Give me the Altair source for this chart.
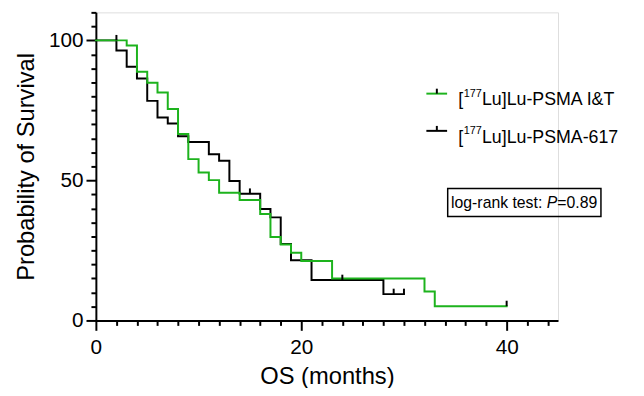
import altair as alt
import pandas as pd

# ---- data ----
iat_time = [0, 3, 4, 5, 6, 7, 8, 9, 10, 11, 12, 14, 16, 17, 18, 19, 20, 23, 32, 33, 40]
iat_surv = [100, 98.2, 88.8, 84.9, 81.4, 75.5, 66.6, 57.6, 52.8, 50.1, 45.6, 43.0, 38.0,
            29.8, 27.1, 24.2, 21.2, 15.0, 10.3, 5.1, 5.1]
p617_time = [0, 2, 3, 4, 5, 6, 7, 8, 9, 11, 12, 13, 14, 16, 17, 18, 19, 21, 28, 30]
p617_surv = [100, 96.4, 90.6, 86.4, 78.4, 72.5, 70.3, 65.8, 63.7, 59.3, 57.0, 49.8, 45.2,
             39.8, 36.8, 27.3, 21.5, 14.4, 9.4, 9.4]
iat_cens_time = [40]
iat_cens_surv = [5.1]
p617_cens_time = [2, 15, 24, 29, 30]
p617_cens_surv = [100, 45.2, 14.4, 9.4, 9.4]

x_ticks = list(range(0, 46, 2))
y_ticks = list(range(0, 111, 5))

GREEN = "#1db31d"
BLACK = "#000000"
FONT = "Liberation Sans, Arial, Helvetica, sans-serif"

x_axis = alt.Axis(
    values=x_ticks, title="OS (months)",
    tickSize={"condition": {"test": "datum.value % 20 === 0", "value": 10}, "value": 5},
    labelExpr="datum.value % 20 === 0 ? datum.label : ''",
    labelFontSize=21, titleFontSize=24, titleFontWeight="normal",
    labelPadding=6, titlePadding=8, domainWidth=2, tickWidth=2,
    domainColor=BLACK, tickColor=BLACK, labelColor=BLACK, titleColor=BLACK,
    grid=False, labelFont=FONT, titleFont=FONT, labelFlush=False, labelOverlap=False,
)
y_axis = alt.Axis(
    values=y_ticks, title="Probability of Survival",
    tickSize={"condition": {"test": "datum.value % 50 === 0", "value": 10}, "value": 5},
    labelExpr="datum.value % 50 === 0 ? datum.label : ''",
    labelFontSize=21, titleFontSize=24, titleFontWeight="normal",
    labelPadding=3, titlePadding=10, domainWidth=2, tickWidth=2,
    domainColor=BLACK, tickColor=BLACK, labelColor=BLACK, titleColor=BLACK,
    grid=False, labelFont=FONT, titleFont=FONT, labelFlush=False, labelOverlap=False,
)
xs = alt.Scale(domain=[0, 45], nice=False, zero=False)
ys = alt.Scale(domain=[0, 110], nice=False, zero=False)


def enc_xy():
    return dict(
        x=alt.X("time:Q", scale=xs, axis=x_axis),
        y=alt.Y("surv:Q", scale=ys, axis=y_axis),
    )


def curve(t, s, color):
    df = pd.DataFrame({"time": t, "surv": s})
    return alt.Chart(df).mark_line(interpolate="step-after", strokeWidth=2,
                                   color=color, strokeCap="square").encode(**enc_xy())


def censor(t, s, color):
    df = pd.DataFrame({"time": t, "surv": s})
    return alt.Chart(df).mark_point(shape="M0,0L0,-1", size=121, filled=False,
                                    strokeWidth=2, color=color, opacity=1).encode(**enc_xy())


def txt(s, px, py, size, color=BLACK, style="normal"):
    return alt.Chart(pd.DataFrame({"t": [s]})).mark_text(
        x=px, y=py, align="left", baseline="alphabetic", fontSize=size,
        font=FONT, color=color, fontStyle=style
    ).encode(text="t:N")


def rule(x1, x2, y1, y2, color, w=2):
    return alt.Chart(pd.DataFrame({"a": [0]})).mark_rule(color=color, strokeWidth=w).encode(
        x=alt.value(x1), x2=alt.value(x2), y=alt.value(y1), y2=alt.value(y2))


legend_names = ["Lu]Lu-PSMA I&T", "Lu]Lu-PSMA-617"]
legend_colors = [GREEN, BLACK]
legend_rows = [82.3, 120.0]

layers = [
    curve(p617_time, p617_surv, BLACK),
    curve(iat_time, iat_surv, GREEN),
    censor(p617_cens_time, p617_cens_surv, BLACK),
    censor(iat_cens_time, iat_cens_surv, BLACK),
]
for name, col, ly in zip(legend_names, legend_colors, legend_rows):
    layers.append(rule(334.7, 355.7, ly, ly, col))
    layers.append(rule(345.3, 345.3, ly - 5, ly, BLACK))
    layers.append(txt("[", 367.0, ly + 12, 18))
    layers.append(txt("177", 372.5, ly + 3.4, 11))
    layers.append(txt(name, 391.0, ly + 12, 18))

# log-rank box
box = alt.Chart(pd.DataFrame({"a": [0]})).mark_rect(
    fill="white", fillOpacity=0, stroke=BLACK, strokeWidth=1.5).encode(
    x=alt.value(356.3), x2=alt.value(511.5), y=alt.value(178.3), y2=alt.value(206.7))
layers.append(box)
layers.append(txt("log-rank test:", 359.7, 198, 16))
layers.append(txt("P", 456.6, 198, 16, style="italic"))
layers.append(txt("=0.89", 467.3, 198, 16))

chart = alt.layer(*layers).properties(
    width=468, height=312,
    autosize=alt.AutoSizeParams(type="none"),
    padding={"left": 89, "top": 2, "right": 79, "bottom": 66},
).configure_view(stroke=None).configure(background="white")

chart.save("out.html", embed_options={"renderer": "svg", "actions": False})
